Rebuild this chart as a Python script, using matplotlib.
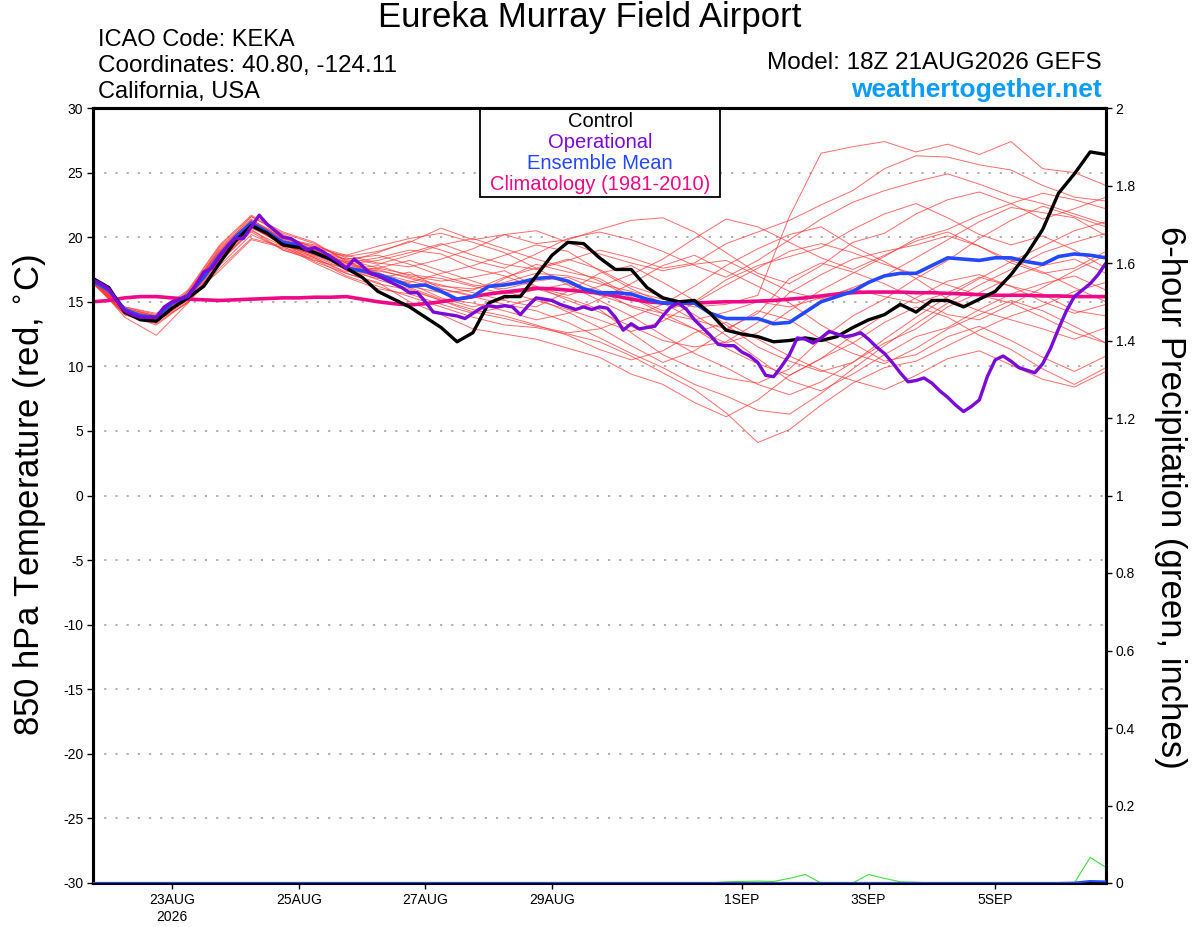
import numpy as np
import pandas as pd
import matplotlib.pyplot as plt
from matplotlib.patches import Rectangle

plt.rcParams['font.family'] = ['Liberation Sans', 'DejaVu Sans']
plt.rcParams['axes.unicode_minus'] = False

start = pd.Timestamp('2026-08-21 18:00')
t6 = pd.date_range(start, periods=65, freq='6h')
t3 = pd.date_range(start, periods=129, freq='3h')
t12 = pd.date_range(start, periods=33, freq='12h')

# 850 hPa temperature (C), 6-hourly
control = [16.8, 16.1, 14.2, 13.6, 13.5, 14.5, 15.3, 16.2, 18.0, 19.7, 20.9, 20.3, 19.4,
           19.2, 18.8, 18.3, 17.6, 16.9, 15.8, 15.2, 14.6, 13.8, 13.0, 11.9, 12.6, 14.9,
           15.4, 15.4, 17.0, 18.6, 19.6, 19.5, 18.4, 17.5, 17.5, 16.1, 15.3, 15.0, 15.1,
           14.1, 12.8, 12.5, 12.3, 11.9, 12.0, 12.2, 12.0, 12.3, 13.0, 13.6, 14.0, 14.8,
           14.2, 15.1, 15.1, 14.6, 15.2, 15.8, 17.1, 18.7, 20.6, 23.4, 24.9, 26.6, 26.4]

ens_mean = [16.6, 15.9, 14.4, 13.9, 13.8, 14.9, 15.5, 16.9, 18.6, 20.0, 21.1, 20.4, 19.6,
            19.4, 18.8, 18.3, 17.6, 17.4, 17.1, 16.7, 16.2, 16.3, 15.8, 15.2, 15.4, 16.2,
            16.3, 16.5, 16.8, 16.9, 16.6, 16.0, 15.7, 15.7, 15.6, 15.2, 14.9, 14.9, 14.9,
            14.1, 13.7, 13.7, 13.7, 13.3, 13.4, 14.2, 15.0, 15.4, 15.8, 16.5, 17.0, 17.2,
            17.2, 17.8, 18.4, 18.3, 18.2, 18.4, 18.4, 18.1, 17.9, 18.5, 18.7, 18.6, 18.4]

climatology = [15.0, 15.1, 15.3, 15.4, 15.4, 15.3, 15.2, 15.15, 15.1, 15.15, 15.2, 15.25,
               15.3, 15.3, 15.35, 15.35, 15.4, 15.2, 15.0, 14.85, 14.75, 14.85, 15.0, 15.2,
               15.4, 15.6, 15.75, 15.9, 16.05, 16.0, 15.9, 15.8, 15.65, 15.45, 15.2, 15.0,
               14.9, 14.9, 14.9, 14.95, 15.0, 15.0, 15.05, 15.1, 15.2, 15.3, 15.45, 15.6,
               15.7, 15.75, 15.75, 15.75, 15.7, 15.7, 15.65, 15.6, 15.55, 15.5, 15.5, 15.5,
               15.45, 15.45, 15.4, 15.4, 15.4]

# operational run, 3-hourly
operational = [16.7, 16.4, 16.0, 15.1, 14.3, 14.0, 13.8, 13.8, 13.8, 14.6, 15.0, 15.2, 15.4,
               16.3, 17.3, 17.6, 18.5, 19.3, 19.9, 19.9, 20.8, 21.7, 21.0, 20.5, 20.0, 19.9,
               19.5, 19.0, 19.2, 18.9, 18.5, 18.1, 17.6, 18.3, 17.8, 17.2, 17.0, 16.7, 16.4,
               16.1, 15.7, 15.7, 15.0, 14.2, 14.1, 14.0, 13.9, 13.7, 14.1, 14.5, 14.7, 14.6,
               14.7, 14.6, 14.0, 14.7, 15.3, 15.2, 15.1, 14.8, 14.6, 14.4, 14.6, 14.4, 14.6,
               14.5, 13.8, 12.8, 13.3, 12.9, 13.0, 13.1, 13.9, 14.6, 14.9, 14.4, 13.6, 13.0,
               12.4, 11.7, 11.6, 11.6, 11.1, 10.8, 10.3, 9.3, 9.2, 10.0, 10.9, 12.2, 12.1,
               11.8, 12.2, 12.7, 12.5, 12.3, 12.4, 12.6, 12.1, 11.5, 11.0, 10.3, 9.5, 8.8,
               8.9, 9.1, 8.7, 8.1, 7.6, 7.0, 6.5, 6.9, 7.4, 9.2, 10.5, 10.8, 10.4, 9.9, 9.7,
               9.5, 10.2, 11.4, 12.9, 14.3, 15.4, 15.9, 16.4, 17.1, 18.0]

# ensemble members, 12-hourly
members = [
    [16.8, 14.3, 13.5, 15.6, 19.2, 21.4, 19.8, 19.0, 17.8, 17.5, 16.8, 16.2, 16.0, 16.5, 17.2, 17.0, 16.4,
     15.8, 15.2, 14.6, 14.8, 15.5, 21.6, 26.5, 27.0, 27.4, 26.6, 27.2, 26.4, 27.4, 25.3, 25.0, 24.0],
    [16.6, 14.5, 13.9, 15.3, 18.4, 20.8, 19.4, 18.6, 17.9, 18.2, 18.8, 19.5, 18.6, 17.9, 17.5, 18.2, 19.0,
     18.4, 17.6, 18.0, 19.5, 20.4, 21.3, 22.5, 23.6, 25.3, 26.3, 26.2, 25.6, 25.2, 24.0, 23.1, 22.8],
    [16.9, 14.1, 13.4, 15.8, 19.0, 21.2, 20.0, 19.2, 18.5, 18.9, 19.6, 20.7, 19.8, 20.2, 19.5, 19.8, 20.6,
     21.3, 21.5, 20.4, 18.8, 17.2, 16.4, 17.8, 19.6, 20.3, 21.8, 22.9, 23.5, 22.6, 21.4, 22.2, 23.1],
    [16.5, 14.0, 13.2, 15.0, 18.0, 20.6, 19.0, 18.3, 17.0, 16.2, 15.4, 14.6, 13.8, 13.2, 13.0, 12.5, 11.9,
     10.8, 9.5, 8.2, 6.4, 4.1, 5.1, 7.0, 8.7, 9.9, 10.4, 11.6, 12.8, 13.9, 14.7, 15.8, 16.5],
    [16.7, 14.4, 13.8, 15.5, 18.3, 20.9, 19.5, 18.1, 17.2, 16.5, 15.0, 14.0, 12.9, 12.5, 12.1, 11.4, 10.7,
     9.4, 8.6, 7.2, 6.1, 7.4, 9.3, 10.6, 11.8, 13.4, 14.6, 13.8, 12.4, 11.3, 9.8, 8.6, 9.9],
    [16.4, 14.2, 13.6, 15.2, 17.4, 19.8, 19.2, 18.5, 17.5, 17.8, 17.0, 16.6, 16.9, 17.4, 16.2, 15.1, 14.2,
     13.1, 12.0, 11.5, 11.9, 13.4, 15.7, 17.1, 18.3, 18.9, 19.4, 20.1, 19.3, 18.0, 17.2, 17.6, 18.9],
    [16.8, 14.6, 14.0, 15.7, 18.9, 21.6, 20.3, 19.5, 18.2, 17.1, 16.4, 15.3, 14.6, 15.2, 16.0, 15.3, 14.4,
     12.6, 10.9, 9.8, 9.1, 8.7, 9.8, 12.1, 13.9, 15.2, 16.8, 18.2, 19.9, 21.3, 22.4, 21.6, 20.8],
    [16.6, 13.8, 12.4, 14.9, 18.1, 20.4, 19.0, 18.2, 17.6, 16.9, 16.5, 17.2, 17.8, 18.6, 19.4, 18.9, 17.4,
     16.0, 14.9, 13.6, 12.9, 14.1, 16.8, 18.0, 17.3, 16.4, 15.2, 14.0, 13.6, 14.8, 16.1, 17.4, 18.6],
    [16.7, 14.3, 13.7, 15.4, 18.7, 21.0, 19.7, 18.9, 18.0, 17.3, 16.1, 15.2, 14.9, 14.3, 13.6, 14.1, 15.2,
     16.4, 17.8, 18.6, 17.4, 16.2, 14.9, 13.2, 11.8, 10.4, 10.9, 12.3, 13.1, 12.0, 10.7, 9.6, 10.8],
    [16.9, 14.5, 13.9, 15.6, 18.5, 20.7, 19.9, 19.3, 18.6, 18.0, 17.7, 18.3, 19.1, 20.2, 20.5, 19.6, 18.7,
     18.0, 17.4, 17.9, 18.2, 17.0, 15.8, 15.2, 16.1, 17.0, 18.4, 19.8, 21.2, 22.3, 21.9, 21.5, 20.1],
    [16.5, 14.1, 13.5, 15.1, 18.2, 20.5, 19.3, 18.0, 16.9, 16.0, 15.6, 14.8, 14.1, 14.6, 15.3, 14.2, 13.0,
     11.6, 10.3, 11.2, 12.8, 14.3, 13.6, 12.1, 11.0, 10.2, 11.4, 12.9, 14.0, 15.1, 14.3, 13.1, 11.8],
    [16.8, 14.4, 13.6, 15.5, 19.1, 21.3, 20.1, 19.0, 17.4, 16.8, 17.3, 16.0, 15.5, 16.8, 17.9, 17.3, 16.8,
     15.4, 14.3, 15.0, 16.7, 17.8, 18.5, 19.2, 20.6, 21.8, 22.6, 21.5, 20.2, 19.4, 20.1, 19.0, 17.6],
    [16.6, 14.2, 13.7, 15.3, 18.8, 21.1, 19.6, 18.7, 17.7, 17.4, 16.9, 16.3, 15.7, 15.1, 14.6, 15.8, 17.2,
     17.8, 16.5, 15.1, 13.2, 11.5, 10.4, 9.6, 10.3, 11.8, 12.9, 14.6, 15.7, 16.9, 17.8, 18.3, 17.2],
    [16.7, 14.0, 13.3, 15.0, 17.8, 20.2, 19.1, 18.4, 17.3, 17.6, 18.2, 17.4, 16.6, 15.8, 15.1, 14.4, 13.6,
     12.7, 13.5, 14.9, 16.3, 17.6, 18.9, 19.5, 18.8, 17.9, 17.1, 16.3, 15.5, 14.9, 13.8, 12.6, 11.8],
    [16.8, 14.5, 13.9, 15.8, 19.3, 21.6, 20.2, 19.1, 18.0, 17.0, 16.2, 15.7, 15.9, 16.9, 17.6, 18.3, 17.5,
     16.2, 15.4, 14.0, 12.4, 10.6, 8.9, 8.1, 9.4, 10.9, 12.3, 13.0, 14.4, 15.6, 16.4, 17.0, 15.9],
    [16.5, 14.3, 13.8, 15.2, 18.6, 20.9, 19.8, 18.8, 18.3, 18.6, 17.9, 17.0, 16.3, 16.0, 16.6, 16.9, 15.9,
     14.6, 13.8, 12.9, 11.8, 12.6, 14.3, 15.9, 17.2, 18.5, 19.9, 20.6, 21.7, 22.6, 23.4, 22.9, 22.2],
    [16.7, 14.1, 13.4, 15.4, 18.4, 20.8, 19.4, 18.6, 17.6, 16.7, 16.0, 15.1, 14.2, 13.7, 13.1, 12.6, 12.9,
     13.8, 14.8, 16.2, 17.8, 19.1, 20.2, 20.8, 19.3, 18.1, 16.8, 15.2, 14.3, 13.6, 12.9, 12.1, 13.0],
    [16.6, 14.4, 13.7, 15.6, 18.9, 21.2, 19.9, 19.4, 18.4, 17.9, 18.6, 19.4, 19.9, 19.1, 18.3, 17.6, 16.6,
     15.3, 14.1, 12.9, 11.4, 10.2, 9.3, 10.6, 12.4, 14.0, 15.3, 16.6, 17.1, 16.2, 15.0, 14.1, 14.8],
    [16.9, 14.6, 14.1, 15.9, 19.4, 21.7, 20.4, 19.6, 18.1, 17.2, 16.6, 16.0, 15.4, 14.8, 14.3, 13.4, 12.2,
     11.0, 9.9, 8.6, 7.7, 6.6, 6.3, 7.9, 9.8, 11.6, 13.3, 14.9, 16.3, 17.5, 18.8, 19.6, 20.3],
    [16.4, 14.0, 13.5, 14.9, 17.6, 19.9, 19.3, 18.7, 18.0, 18.4, 19.0, 18.7, 17.6, 17.0, 16.1, 15.5, 16.2,
     17.1, 18.3, 19.9, 21.4, 20.8, 19.6, 18.4, 17.5, 18.6, 19.7, 20.4, 19.3, 18.2, 17.3, 16.1, 15.0],
    [16.7, 14.2, 13.6, 15.4, 18.5, 20.9, 19.7, 18.9, 18.1, 18.8, 19.7, 19.0, 18.2, 17.6, 18.7, 19.9, 20.4,
     19.8, 18.9, 17.8, 16.9, 18.2, 19.8, 21.4, 22.7, 23.6, 24.3, 24.9, 24.1, 23.2, 22.6, 21.8, 21.0],
    [16.6, 14.3, 13.7, 15.3, 18.6, 21.0, 19.5, 18.4, 17.2, 16.4, 15.9, 15.1, 14.4, 13.9, 13.2, 12.4, 11.3,
     10.5, 11.2, 12.6, 13.4, 12.1, 10.8, 9.7, 8.9, 8.2, 9.3, 10.6, 11.2, 10.1, 9.0, 8.4, 9.6],
    [16.8, 14.4, 13.8, 15.6, 18.8, 21.3, 19.9, 19.0, 18.3, 17.6, 17.1, 16.8, 16.2, 15.6, 15.9, 16.4, 15.5,
     14.7, 14.1, 13.6, 14.2, 15.0, 14.6, 15.3, 16.0, 15.4, 14.9, 15.7, 16.9, 16.2, 15.6, 14.3, 13.9],
    [16.5, 14.1, 13.5, 15.2, 18.2, 20.7, 19.6, 18.8, 18.6, 19.3, 19.9, 20.3, 19.6, 18.8, 17.6, 16.3, 15.1,
     13.9, 12.4, 11.0, 9.9, 8.6, 7.8, 8.8, 10.3, 12.1, 13.8, 15.4, 16.8, 18.1, 19.3, 20.5, 21.2],
]

# 6-hour precipitation (inches)
precip_member = [0] * 40 + [0.003, 0.004, 0.005, 0.004, 0.012, 0.022, 0.0, 0.0, 0.0, 0.022,
                            0.012, 0.003, 0.002, 0.0, 0.0, 0.0, 0.0, 0.0, 0.0, 0.0, 0.0, 0.0,
                            0.0, 0.066, 0.04]
precip_mean = [0] * 62 + [0.001, 0.005, 0.004]

tick_dates = ['2026-08-23', '2026-08-25', '2026-08-27', '2026-08-29',
              '2026-09-01', '2026-09-03', '2026-09-05']
tick_labels = ['23AUG\n2026', '25AUG', '27AUG', '29AUG', '1SEP', '3SEP', '5SEP']

fig = plt.figure(figsize=(12, 9.27), dpi=100)
ax = fig.add_axes([93 / 1200, 44 / 927, 1013 / 1200, 775 / 927])

for m in members:
    ax.plot(t12, m, color='#ff3b3b', lw=0.7, alpha=0.75, zorder=2)
ax.plot(t6, climatology, color='#ee0a86', lw=2.6, zorder=3)
ax.plot(t6, ens_mean, color='#2448ff', lw=2.6, zorder=4)
ax.plot(t6, control, color='black', lw=2.4, zorder=5)
ax.plot(t3, operational, color='#7a0ad8', lw=2.4, zorder=6)

ax.set_xlim(t6[0], t6[-1])
ax.set_ylim(-30, 30)
ax.set_yticks(np.arange(-30, 31, 5))
ax.yaxis.grid(True, linestyle=(0, (1.2, 5)), color='#a8a8a8', lw=1.3)
ax.set_xticks(pd.to_datetime(tick_dates))
ax.set_xticklabels(tick_labels, fontsize=10, linespacing=1.3)
ax.tick_params(axis='both', direction='out', length=4, width=1, labelsize=10, pad=3)
for s in ax.spines.values():
    s.set_linewidth(2.2)

ax2 = ax.twinx()
ax2.plot(t6, precip_member, color='#44dd44', lw=0.8, zorder=2)
ax2.plot(t6, precip_mean, color='#2448ff', lw=1.5, zorder=3)
ax2.set_ylim(0, 2)
ax2.set_yticks(np.arange(0, 2.01, 0.2))
ax2.set_yticklabels(['%g' % v for v in np.round(np.arange(0, 2.01, 0.2), 1)])
ax2.tick_params(axis='y', direction='out', length=4, width=1, labelsize=10, pad=3)
for s in ax2.spines.values():
    s.set_linewidth(2.2)

# legend box
ax.add_patch(Rectangle((0.382, 0.885), 0.237, 0.115, transform=ax.transAxes,
                       facecolor='white', edgecolor='black', lw=1.3, zorder=10))
legend_items = [('Control', 'black', 0.983), ('Operational', '#7a0ad8', 0.956),
                ('Ensemble Mean', '#2448ff', 0.929), ('Climatology (1981-2010)', '#ee0a86', 0.901)]
for txt, col, yy in legend_items:
    ax.text(0.5005, yy, txt, color=col, fontsize=14.5, ha='center', va='center',
            transform=ax.transAxes, zorder=11)

fig.text(0.4917, 1 - 18 / 927, 'Eureka Murray Field Airport', fontsize=25, ha='center', va='center')
fig.text(98 / 1200, 1 - 40 / 927, 'ICAO Code: KEKA', fontsize=17, ha='left', va='center')
fig.text(98 / 1200, 1 - 66 / 927, 'Coordinates: 40.80, -124.11', fontsize=17.5, ha='left', va='center')
fig.text(98 / 1200, 1 - 92 / 927, 'California, USA', fontsize=17, ha='left', va='center')
fig.text(1102 / 1200, 1 - 63 / 927, 'Model: 18Z 21AUG2026 GEFS', fontsize=17.5, ha='right', va='center')
fig.text(1102 / 1200, 1 - 90 / 927, 'weathertogether.net', fontsize=19, fontweight='bold',
         color='#0c9cf5', ha='right', va='center')

fig.text(30 / 1200, 1 - 495 / 927, '850 hPa Temperature (red, $^{\\circ}$C)', fontsize=25,
         rotation=90, ha='center', va='center')
fig.text(1170 / 1200, 1 - 497 / 927, '6-hour Precipitation (green, inches)', fontsize=25,
         rotation=270, ha='center', va='center')

fig.savefig('out.png', dpi=100)
